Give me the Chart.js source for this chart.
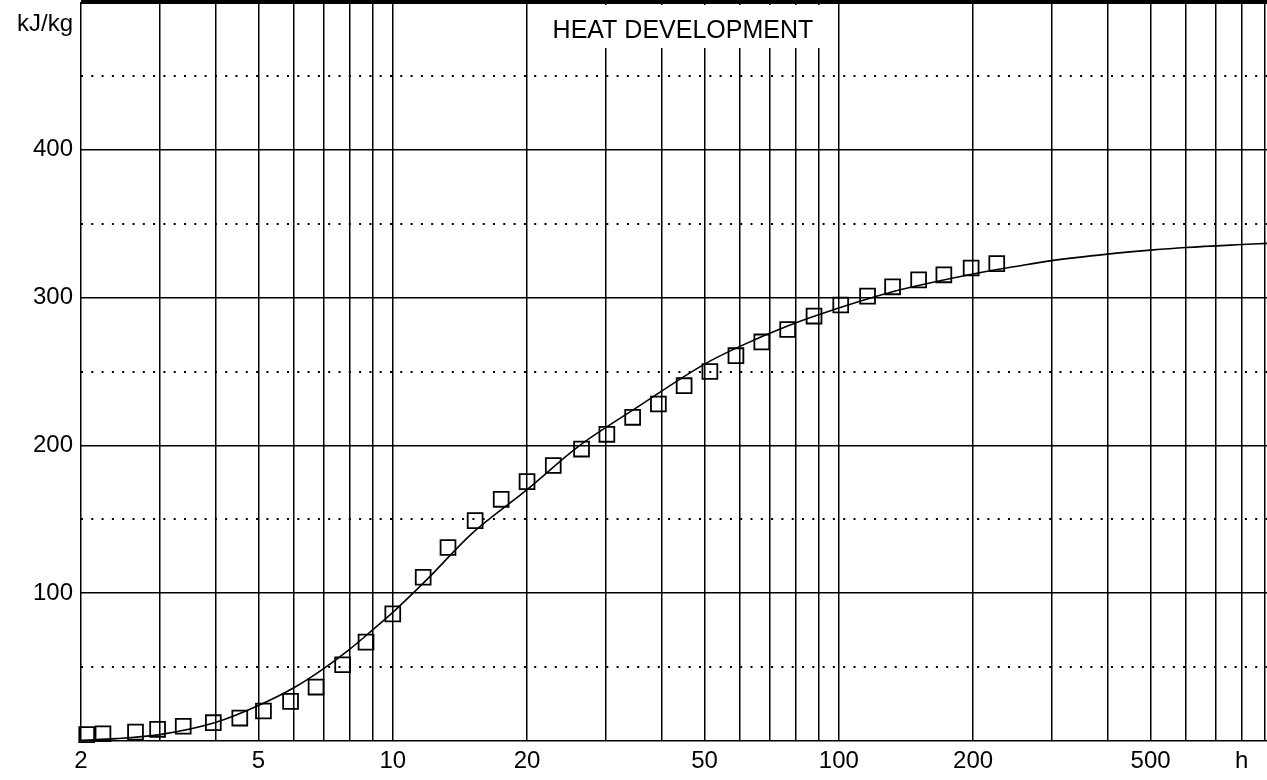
<!DOCTYPE html>
<html>
<head>
<meta charset="utf-8">
<title>Heat development</title>
<script src="https://cdn.jsdelivr.net/npm/chart.js@4.4.0/dist/chart.umd.min.js"></script>
<style>
    html, body { margin: 0; padding: 0; background: #fff; }
</style>
</head>
<body>
<canvas id="heatChart" width="1267" height="780"></canvas>
<script>
var pointHours = [2.06, 2.24, 2.65, 2.97, 3.39, 3.96, 4.54, 5.13, 5.9, 6.73, 7.72, 8.71,
    10.0, 11.7, 13.3, 15.3, 17.5, 20.0, 22.9, 26.5, 30.2, 34.5, 39.4, 45.0,
    51.4, 58.8, 67.2, 76.8, 88.0, 101, 116, 132, 151, 172, 198, 226];
var pointHeat = [4.3, 4.9, 6, 7.9, 10, 12.4, 15.5, 20.3, 26.8, 36.5, 51.6, 66.9,
    86, 110.8, 130.9, 149.1, 163.5, 175.5, 186.4, 197.5, 207.5, 219, 228, 240.4,
    250, 260.7, 270, 278.4, 287.5, 295, 301, 307.3, 312, 315.4, 320, 323];

// fitted curve
var curveHours = [2, 2.4, 3, 4, 5, 6, 7, 8, 9, 10, 12, 15, 20, 26, 35, 50, 60, 77,
    100, 132, 200, 255, 300, 400, 500, 600, 800, 912];
var curveHeat = [0.5, 1.6, 4.3, 12.5, 24, 36, 49, 62, 75, 87, 110, 140, 170, 199, 225, 255, 267, 281,
    293, 304, 316, 321.6, 325, 329.4, 332.1, 333.9, 335.9, 336.7];

// axes
var gridHours = [2, 3, 4, 5, 6, 7, 8, 9, 10, 20, 30, 40, 50, 60, 70, 80, 90,
    100, 200, 300, 400, 500, 600, 700, 800, 900];
var xLabelHours = [2, 5, 10, 20, 50, 100, 200, 500, 800];
var xTickLabels = ['2', '5', '10', '20', '50', '100', '200', '500', 'h'];
var yMajor = [0, 100, 200, 300, 400, 500];
var yTickLabels = ['', '100', '200', '300', '400', ''];
var yMinor = [50, 150, 250, 350, 450];

var chartTitle = 'HEAT DEVELOPMENT';
var yUnit = 'kJ/kg';

var fontName = "'Liberation Sans', Arial, sans-serif";
Chart.defaults.font.family = fontName;
Chart.defaults.color = '#000';

function toPoints(xs, ys) {
    return xs.map(function(x, i) { return { x: x, y: ys[i] }; });
}

function noPadding(scale) {
    scale.paddingTop = 0;
    scale.paddingBottom = 0;
    scale.paddingLeft = 0;
    scale.paddingRight = 0;
}

// white box with the title over the grid, plus the unit label
var titleBox = {
    id: 'titleBox',
    beforeDatasetsDraw: function(chart) {
        var ctx = chart.ctx;
        var xs = chart.scales.x;
        var area = chart.chartArea;
        var left = xs.getPixelForValue(20) + 1;
        var right = xs.getPixelForValue(100) - 1;
        ctx.save();
        ctx.fillStyle = '#fff';
        ctx.fillRect(left, area.top + 3, right - left, 43);
        ctx.fillStyle = '#000';
        ctx.font = '25px ' + fontName;
        ctx.textAlign = 'center';
        ctx.textBaseline = 'alphabetic';
        ctx.fillText(chartTitle, (left + right) / 2, 38);
        ctx.font = '24px ' + fontName;
        ctx.textAlign = 'right';
        ctx.fillText(yUnit, area.left - 8, 31);
        ctx.restore();
    }
};

var heatChart = new Chart(document.getElementById('heatChart'), {
    type: 'scatter',
    data: {
        datasets: [
            {
                label: 'curve',
                data: toPoints(curveHours, curveHeat),
                showLine: true,
                pointRadius: 0,
                borderColor: '#000',
                borderWidth: 1.6,
                cubicInterpolationMode: 'monotone'
            },
            {
                label: 'measured',
                data: toPoints(pointHours, pointHeat),
                pointStyle: 'rect',
                pointRadius: 10.5,
                pointBorderWidth: 1.8,
                borderColor: '#000',
                backgroundColor: 'rgba(0,0,0,0)',
                clip: false
            }
        ]
    },
    options: {
        responsive: false,
        animation: false,
        layout: { autoPadding: false, padding: { top: 2, right: 0, bottom: 0, left: 0 } },
        plugins: {
            legend: { display: false },
            tooltip: { enabled: false }
        },
        scales: {
            x: {
                type: 'logarithmic',
                min: 2,
                max: 912,
                afterBuildTicks: function(scale) {
                    scale.ticks = gridHours.map(function(v) { return { value: v }; });
                },
                afterFit: function(scale) {
                    scale.height = 39;
                    noPadding(scale);
                },
                ticks: {
                    autoSkip: false,
                    maxRotation: 0,
                    padding: 6,
                    font: { size: 24 },
                    callback: function(v) {
                        var i = xLabelHours.indexOf(v);
                        return i >= 0 ? xTickLabels[i] : '';
                    }
                },
                grid: { color: '#000', lineWidth: 1.5, drawTicks: false },
                border: { display: false }
            },
            y: {
                min: 0,
                max: 500,
                afterBuildTicks: function(scale) {
                    scale.ticks = yMajor.map(function(v) { return { value: v }; });
                },
                afterFit: function(scale) {
                    scale.width = 81;
                    noPadding(scale);
                },
                ticks: {
                    padding: 8,
                    font: { size: 24 },
                    callback: function(v) { return yTickLabels[yMajor.indexOf(v)]; }
                },
                grid: {
                    color: '#000',
                    lineWidth: function(c) { return c.tick && c.tick.value === 500 ? 4 : 1.5; },
                    drawTicks: false
                },
                border: { display: false }
            },
            y2: {
                position: 'left',
                min: 0,
                max: 500,
                afterBuildTicks: function(scale) {
                    scale.ticks = yMinor.map(function(v) { return { value: v }; });
                },
                afterFit: function(scale) {
                    scale.width = 0;
                    noPadding(scale);
                },
                ticks: { display: false },
                grid: { color: '#000', lineWidth: 2, drawTicks: false },
                border: { display: false, dash: [2, 8.3] }
            }
        }
    },
    plugins: [titleBox]
});
</script>
</body>
</html>
